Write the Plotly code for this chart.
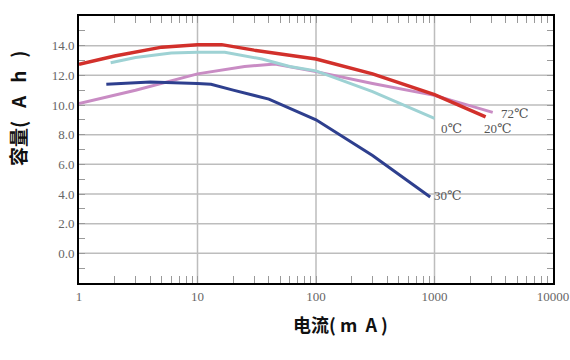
import math
import plotly.graph_objects as go

# Data (current mA, capacity Ah)
red_x = [1, 2, 5, 10, 16, 30, 100, 300, 1000, 2700]
red_y = [12.75, 13.3, 13.9, 14.07, 14.07, 13.7, 13.1, 12.1, 10.7, 9.2]

cyan_x = [1.85, 3, 6, 10, 17, 35, 60, 100, 300, 1000]
cyan_y = [12.85, 13.2, 13.5, 13.55, 13.55, 13.1, 12.6, 12.3, 10.9, 9.1]

pink_x = [1, 3, 10, 25, 45, 100, 300, 1000, 3100]
pink_y = [10.1, 11.0, 12.1, 12.6, 12.77, 12.25, 11.45, 10.65, 9.5]

blue_x = [1.7, 4, 10, 13, 20, 40, 100, 300, 920]
blue_y = [11.4, 11.55, 11.45, 11.4, 11.0, 10.4, 9.0, 6.6, 3.8]

x_ticks = [1, 10, 100, 1000, 10000]
x_ticklabels = ["1", "10", "100", "1000", "10000"]
x_minor = [m * d for d in [1, 10, 100, 1000] for m in range(2, 10)]
y_ticks = [0, 2, 4, 6, 8, 10, 12, 14]
y_ticklabels = ["0.0", "2.0", "4.0", "6.0", "8.0", "10.0", "12.0", "14.0"]
y_minor = [-1, 1, 3, 5, 7, 9, 11, 13, 15]

labels = [("72℃", 3500, 9.4), ("0℃", 1100, 8.4), ("20℃", 2500, 8.4), ("30℃", 950, 3.9)]

SERIF = "Liberation Serif, Times New Roman, DejaVu Serif, serif"
NB = "\u00a0"

fig = go.Figure()
fig.add_trace(go.Scatter(x=pink_x, y=pink_y, mode="lines", line=dict(color="#c98cc4", width=3)))
fig.add_trace(go.Scatter(x=cyan_x, y=cyan_y, mode="lines", line=dict(color="#9ed2d4", width=3)))
fig.add_trace(go.Scatter(x=blue_x, y=blue_y, mode="lines", line=dict(color="#2e3f8e", width=3)))
fig.add_trace(go.Scatter(x=red_x, y=red_y, mode="lines", line=dict(color="#d2302b", width=3.5)))

for text, lx, ly in labels:
    fig.add_annotation(x=math.log10(lx), y=ly, xref="x", yref="y", text=text, showarrow=False,
                       xanchor="left", yanchor="middle",
                       font=dict(family=SERIF, size=13, color="#555555"))

fig.add_annotation(x=(18 - 79) / 474, y=(283 - 108) / 267, xref="paper", yref="paper",
                   text="<b>容量(" + NB * 3 + "A" + NB * 3 + "h" + NB * 3 + ")</b>",
                   showarrow=False, textangle=-90, xanchor="center", yanchor="middle",
                   font=dict(family="Noto Sans CJK SC", size=19, color="#111111"))

fig.add_annotation(x=(340 - 79) / 474, y=-(324 - 283) / 267, xref="paper", yref="paper",
                   text="<b>电流(" + NB + "m" + NB * 2 + "A" + NB + ")</b>",
                   showarrow=False, xanchor="center", yanchor="middle",
                   font=dict(family="Noto Sans CJK SC", size=18, color="#111111"))

# gridlines at labelled ticks (derived from tick arrays)
for xv in x_ticks[1:-1]:
    fig.add_shape(type="line", xref="x", yref="paper", x0=xv, x1=xv,
                  y0=0, y1=1, line=dict(color="#bdbdbd", width=1.5), layer="below")
for yv in y_ticks:
    fig.add_shape(type="line", xref="paper", yref="y", x0=0, x1=1, y0=yv, y1=yv,
                  line=dict(color="#bdbdbd", width=1.5), layer="below")

x_all = sorted(x_ticks + x_minor)
x_text = [x_ticklabels[x_ticks.index(v)] if v in x_ticks else "" for v in x_all]
y_all = sorted(y_ticks + y_minor)
y_text = [y_ticklabels[y_ticks.index(v)] if v in y_ticks else "" for v in y_all]

fig.update_layout(
    width=570, height=360,
    margin=dict(l=79, r=17, t=16, b=77),
    paper_bgcolor="white", plot_bgcolor="white",
    showlegend=False,
    xaxis=dict(
        type="log", range=[0, 4], automargin=False,
        tickvals=x_all, ticktext=x_text,
        showgrid=False,
        showline=True, linecolor="black", linewidth=2, mirror="allticks",
        ticks="inside", ticklen=7, tickcolor="#9a9a9a", tickwidth=1,
        tickfont=dict(family=SERIF, size=13, color="#666666"),
        zeroline=False,
    ),
    yaxis=dict(
        range=[-2, 16], automargin=False,
        tickvals=y_all, ticktext=y_text,
        showgrid=False,
        showline=True, linecolor="black", linewidth=2, mirror="allticks",
        ticks="inside", ticklen=6, tickcolor="#9a9a9a", tickwidth=1,
        tickfont=dict(family=SERIF, size=13, color="#666666"),
        zeroline=False,
    ),
)

fig.write_html("out.html", config={"displayModeBar": False},
               post_script="document.body.style.margin='0px';")
